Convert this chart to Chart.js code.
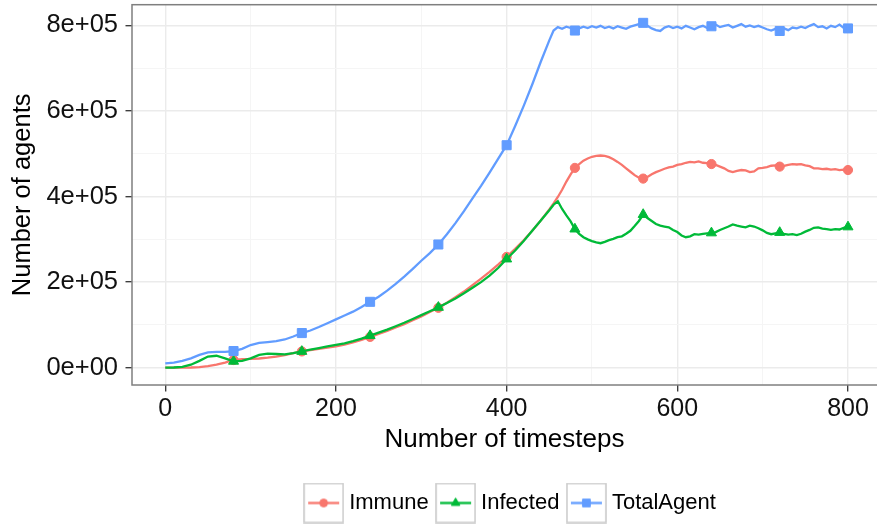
<!DOCTYPE html>
<html><head><meta charset="utf-8">
<script src="https://cdn.jsdelivr.net/npm/chart.js@4.4.0/dist/chart.umd.min.js"></script>
<style>html,body{margin:0;padding:0;background:#fff;overflow:hidden}</style>
</head><body>
<canvas id="c" width="877" height="524"></canvas>
<script>
// ---- data (agent counts in thousands) ----
const timesteps = [0,10,20,30,40,50,60,70,80,90,100,110,120,130,140,150,160,170,180,190,200,210,220,230,240,250,260,270,280,290,300,310,320,330,340,350,360,370,380,390,400,410,420,430,440,450,
455,460,465,470,475,480,485,490,495,500,505,510,515,520,525,530,535,540,545,550,555,560,565,570,575,580,585,590,595,600,605,610,615,620,625,630,635,640,645,650,655,660,665,670,675,680,685,690,695,700,705,710,715,720,725,730,735,740,745,750,755,760,765,770,775,780,785,790,795,800];

const immuneK = [0,0,0,0.5,1.5,3.5,7,12,18,20,20.5,21.5,23.5,26,29.5,34,38,41,44,47,50,54,59,65,72,79,86,94,102,111,120,130,140,152,165,178,193,208,224,241,259,278,298,320,344,370,
384,399,416,435,452,467,476,484,489,493,
495,496,495,492,487,481,474,466,458,450,
444,442,446,452,457,461,465,468,470,474,
476,479,481,480,482,479,478,476,474,470,
466,460,457,460,462,461,457,459,466,467,
469,472,473,470,472,474,476,475,476,473,
471,466,466,464,465,463,464,462,463,462];

const infectedK = [0,0.5,2,7,16,26,28,22,15,16,22,30,33,32,31,34,38,42,46,50,53.5,57,62,68,75,82,89,97,105,114,123,132,141,151,162,174,187,200,215,233,254,274,296,320,344,368,
381,389,371,356,342,324,313,305,300,296,
293,291,294,298,301,305,307,313,320,331,
343,358,350,343,336,332,330,328,322,317,
309,305,307,312,311,313,314,315,317,322,
326,330,335,332,330,328,332,330,326,321,
315,312,314,316,313,311,312,310,313,318,
322,327,328,325,324,322,324,323,327,329];

const totalAgentK = [10,12,16,22,30,36,37,37,39,44,53,58,60,62,66,73,81,87,95,104,113,122,131,142,154,166,180,196,213,231,250,268,288,312,338,366,396,425,456,488,520,565,612,662,715,765,
788,796,792,797,794,788,793,797,794,798,
795,799,794,797,793,798,795,792,797,800,
803,806,799,793,789,787,795,798,794,797,
793,799,795,791,796,799,794,798,802,796,
799,801,795,799,803,797,800,796,799,795,
791,788,792,787,793,789,795,793,797,794,
799,803,796,798,793,799,796,802,794,793];

const seriesNames = ['Immune','Infected','TotalAgent'];
const markerSteps = [80,160,240,320,400,480,560,640,720,800];

const xGridValues = [0,100,200,300,400,500,600,700,800];
const xTickValues = [0,200,400,600,800];
const xTickLabels = ['0','200','400','600','800'];
const yGridValues = [0,100000,200000,300000,400000,500000,600000,700000,800000];
const yTickValues = [0,200000,400000,600000,800000];
const yTickLabels = ['0e+00','2e+05','4e+05','6e+05','8e+05'];

// ---- styles ----
const FONT = "'Liberation Sans', Arial, Helvetica, sans-serif";
const styles = [
  {color:'#F8766D', shape:'circle',   r:4.6, order:3},
  {color:'#00BA38', shape:'triangle', r:5.8, order:2},
  {color:'#619CFF', shape:'rect',     r:6.4, order:1}
];
const allValues = [immuneK, infectedK, totalAgentK];

function makeKey(st){
  const c = document.createElement('canvas'); c.width = 41; c.height = 41;
  const g = c.getContext('2d');
  g.fillStyle = '#fff'; g.fillRect(0,0,41,41);
  g.strokeStyle = '#cccccc'; g.lineWidth = 1.6; g.strokeRect(1,1,39,39);
  g.strokeStyle = st.color; g.lineWidth = 2.3;
  g.beginPath(); g.moveTo(5,20.5); g.lineTo(36,20.5); g.stroke();
  g.fillStyle = st.color; g.strokeStyle = st.color; g.lineWidth = 1;
  Chart.helpers.drawPoint(g, {pointStyle: st.shape, radius: st.r*0.85, borderWidth: 1}, 20.5, 20.5);
  return c;
}
const keys = styles.map(makeKey);

const datasets = seriesNames.map((name, i) => ({
  label: name,
  data: timesteps.map((t, j) => ({x: t, y: allValues[i][j] * 1000})),
  borderColor: styles[i].color,
  backgroundColor: styles[i].color,
  borderWidth: 2.3,
  pointStyle: styles[i].shape,
  pointRadius: c => markerSteps.includes(timesteps[c.dataIndex]) ? styles[i].r : 0,
  pointBorderWidth: 1,
  pointBackgroundColor: styles[i].color,
  pointBorderColor: styles[i].color,
  tension: 0,
  order: styles[i].order
}));

const panelBorder = {
  id: 'panelBorder',
  afterLayout(chart){
    // centre the legend under the panel, as ggplot does
    const L = chart.legend; if (L) { L.left += 74; L.right += 74; }
  },
  afterDatasetsDraw(chart){
    const {ctx, chartArea: a} = chart;
    ctx.save();
    ctx.strokeStyle = '#7f7f7f'; ctx.lineWidth = 1.5;
    ctx.strokeRect(a.left, a.top, a.right - a.left + 20, a.bottom - a.top);
    ctx.restore();
  }
};

const isMajorX = v => xTickValues.includes(v);
const isMajorY = v => yTickValues.includes(v);

new Chart(document.getElementById('c'), {
  type: 'line',
  data: { datasets },
  plugins: [panelBorder],
  options: {
    responsive: false,
    animation: false,
    events: [],
    layout: { autoPadding: false, padding: { top: 4.7, left: 0, right: 0, bottom: 0 } },
    scales: {
      x: {
        type: 'linear', min: -39, max: 834,
        afterBuildTicks: s => { s.ticks = xGridValues.map(v => ({value: v})); },
        afterFit: s => { s.height = 94.5; s.paddingLeft = 0; s.paddingRight = 0; },
        border: { display: false },
        grid: {
          color: c => (c.tick && isMajorX(c.tick.value)) ? '#ebebeb' : '#f5f5f5',
          lineWidth: c => (c.tick && isMajorX(c.tick.value)) ? 1.4 : 1,
          tickColor: c => (c.tick && isMajorX(c.tick.value)) ? '#333333' : 'rgba(0,0,0,0)',
          tickLength: 6.5, tickWidth: 1.3
        },
        ticks: {
          autoSkip: false, maxRotation: 0, padding: 3, color: '#111',
          font: { family: FONT, size: 25 },
          callback: v => { const k = xTickValues.indexOf(v); return k >= 0 ? xTickLabels[k] : ''; }
        },
        title: { display: true, text: 'Number of timesteps', color: '#000',
                 font: { family: FONT, size: 26 }, padding: { top: 0, bottom: 23.6 } }
      },
      y: {
        type: 'linear', min: -40400, max: 848400,
        afterBuildTicks: s => { s.ticks = yGridValues.map(v => ({value: v})); },
        afterFit: s => { s.width = 132; s.paddingTop = 0; s.paddingBottom = 0; },
        border: { display: false },
        grid: {
          color: c => (c.tick && isMajorY(c.tick.value)) ? '#ebebeb' : '#f5f5f5',
          lineWidth: c => (c.tick && isMajorY(c.tick.value)) ? 1.4 : 1,
          tickColor: c => (c.tick && isMajorY(c.tick.value)) ? '#333333' : 'rgba(0,0,0,0)',
          tickLength: 6.5, tickWidth: 1.3
        },
        ticks: {
          autoSkip: false, padding: 7.5, color: '#111',
          font: { family: FONT, size: 25.5 },
          callback: v => { const k = yTickValues.indexOf(v); return k >= 0 ? yTickLabels[k] : ''; }
        },
        title: { display: true, text: 'Number of agents', color: '#000',
                 font: { family: FONT, size: 25.5 }, padding: { top: 7.6, bottom: 0 } }
      }
    },
    plugins: {
      tooltip: { enabled: false },
      legend: {
        position: 'bottom',
        labels: {
          usePointStyle: true, pointStyleWidth: 29, padding: 12.5, color: '#000',
          font: { family: FONT, size: 22 },
          generateLabels(chart){
            const items = Chart.defaults.plugins.legend.labels.generateLabels(chart);
            items.forEach(it => { it.pointStyle = keys[it.datasetIndex]; });
            return items;
          },
          sort: (a, b) => a.datasetIndex - b.datasetIndex
        }
      }
    }
  }
});
</script>
</body></html>
